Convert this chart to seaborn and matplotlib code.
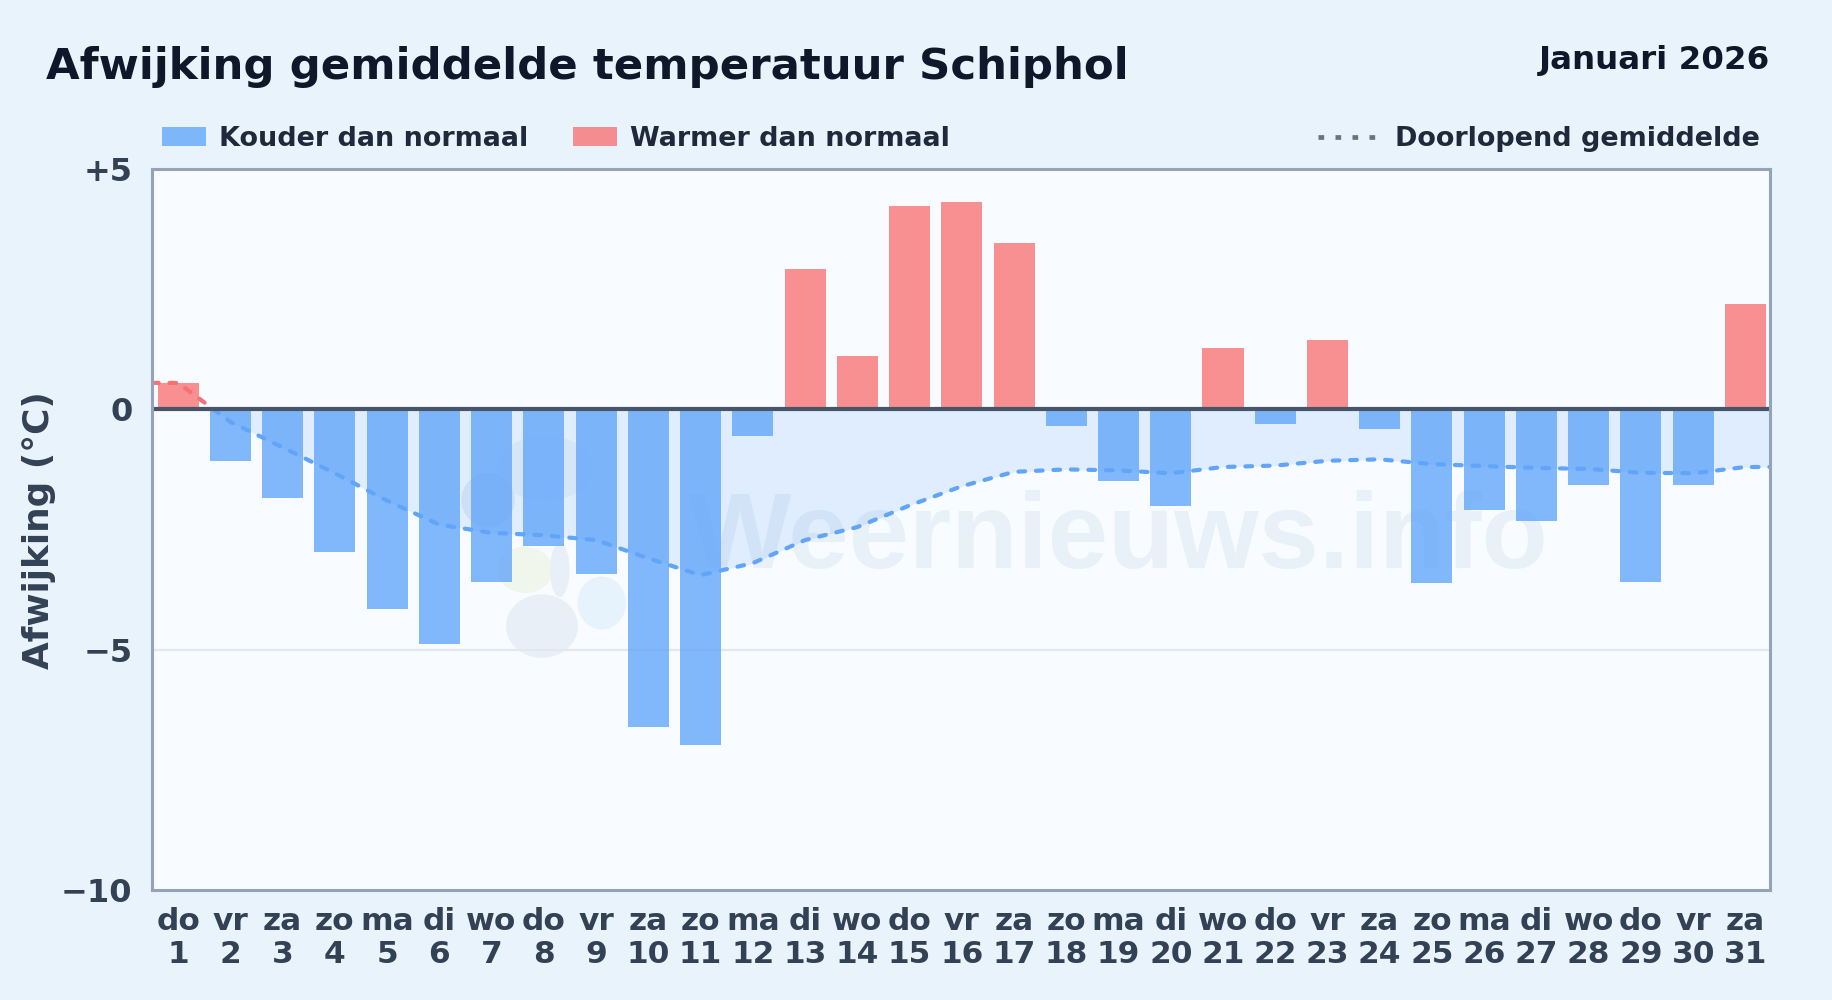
import matplotlib
matplotlib.use("Agg")
from matplotlib import pyplot as plt
from matplotlib.patches import Patch, Rectangle, Ellipse
from matplotlib.lines import Line2D
import seaborn as sns
import pandas as pd

weekdays = ["do", "vr", "za", "zo", "ma", "di", "wo", "do", "vr", "za", "zo", "ma", "di", "wo", "do", "vr",
            "za", "zo", "ma", "di", "wo", "do", "vr", "za", "zo", "ma", "di", "wo", "do", "vr", "za"]
deviation = [0.55, -1.07, -1.85, -2.96, -4.15, -4.88, -3.6, -2.85, -3.43, -6.6, -6.98, -0.55, 2.92, 1.1, 4.23, 4.31,
             3.46, -0.35, -1.5, -2.02, 1.27, -0.3, 1.45, -0.4, -3.62, -2.1, -2.33, -1.58, -3.6, -1.58, 2.2]
running = [0.55, -0.26, -0.79, -1.33, -1.9, -2.4, -2.57, -2.62, -2.72, -3.1, -3.45, -3.2, -2.72, -2.45, -2.0, -1.6,
           -1.3, -1.25, -1.27, -1.33, -1.2, -1.17, -1.07, -1.04, -1.14, -1.18, -1.22, -1.24, -1.32, -1.33, -1.2]
yticks = [5, 0, -5, -10]
yticklabels = ["+5", "0", "\u22125", "\u221210"]

BLUE = "#60a5fa"
RED = "#f87171"
BG = "#e9f3fc"
DARK = "#0f172a"
SLATE = "#334155"

labels = [f"{d}\n{i + 1}" for i, d in enumerate(weekdays)]
df = pd.DataFrame({"label": labels, "value": deviation})
df["kind"] = ["warm" if v >= 0 else "koud" for v in deviation]

sns.set_theme(style="white", font="DejaVu Sans")
fig = plt.figure(figsize=(18.32, 10), dpi=100, facecolor=BG)
ax = fig.add_axes([152 / 1832, 1 - 890 / 1000, (1770 - 152) / 1832, (890 - 169) / 1000])
ax.set_facecolor("#f8fbff")

# watermark
ax.text(0.332, 0.447, "Weernieuws.info", transform=ax.transAxes, fontsize=78, family="Liberation Sans",
        fontweight="bold", color="#c5d8ea", alpha=0.3, va="baseline", ha="left", zorder=0.5)
for cx, cy, w, h, c in [(0.243, 0.585, 0.06, 0.09, "#edf3f9"), (0.2077, 0.541, 0.033, 0.075, "#e3ebf3"),
                        (0.2305, 0.444, 0.0346, 0.064, "#f1f6ec"), (0.278, 0.398, 0.03, 0.0735, "#e6f3fd"),
                        (0.252, 0.444, 0.012, 0.075, "#e8eff6"), (0.241, 0.366, 0.0445, 0.088, "#e8eff6")]:
    ax.add_patch(Ellipse((cx, cy), w, h, transform=ax.transAxes, color=c, lw=0, zorder=0.5))

ax.axhline(-5, color="#e2e8f0", lw=1.6, zorder=1)

# running mean, coloured by sign of the value
line_x = [-0.5] + list(range(31)) + [30.5]
line_y = [running[0]] + running + [running[-1]]
above = Rectangle((-0.5, 0), 31, 5, transform=ax.transData)
below = Rectangle((-0.5, -10), 31, 10, transform=ax.transData)
fill = ax.fill_between(line_x, line_y, 0, color=BLUE, alpha=0.16, lw=0, zorder=1)
fill.set_clip_path(below)

sns.barplot(data=df, x="label", y="value", hue="kind", hue_order=["koud", "warm"], palette={"koud": BLUE, "warm": RED},
            dodge=False, width=0.785, alpha=0.78, legend=False, saturation=1, linewidth=0, ax=ax, zorder=2)

for color, clip in [(RED, above), (BLUE, below)]:
    sns.lineplot(x=line_x, y=line_y, color=color, lw=3, ax=ax, zorder=3, errorbar=None, sort=False)
    ln = ax.lines[-1]
    ln.set_dashes((1.6, 2.6))
    ln.set_dash_capstyle("round")
    ln.set_clip_path(clip)

ax.axhline(0, color="#475569", lw=3, zorder=4)

ax.set_xlim(-0.5, 30.47)
ax.set_ylim(-10, 5)
ax.set_yticks(yticks, yticklabels)
ax.tick_params(axis="y", labelsize=23, labelcolor=SLATE, length=0, pad=14)
ax.tick_params(axis="x", labelsize=22.5, labelcolor=SLATE, length=0, pad=12)
for t in ax.get_xticklabels() + ax.get_yticklabels():
    t.set_fontweight("bold")
    t.set_linespacing(1.2)
ax.set_xlabel("")
ax.set_ylabel("")
fig.text(39 / 1832, 1 - 530 / 1000, "Afwijking (°C)", rotation=90, fontsize=25.8, fontweight="bold", color=SLATE,
         ha="center", va="center")
for s in ax.spines.values():
    s.set_visible(True)
    s.set_color("#94a3b8")
    s.set_linewidth(2.2)
    s.set_zorder(5)

fig.text(46 / 1832, 1 - 67 / 1000, "Afwijking gemiddelde temperatuur Schiphol", fontsize=31.3, fontweight="bold",
         color=DARK, ha="left", va="center")
fig.text(1770 / 1832, 1 - 60 / 1000, "Januari 2026", fontsize=23.4, fontweight="bold", color=DARK, ha="right",
         va="center")

leg1 = ax.legend(handles=[Patch(color=BLUE, alpha=0.78, lw=0, label="Kouder dan normaal"),
                          Patch(color=RED, alpha=0.78, lw=0, label="Warmer dan normaal")],
                 loc="lower left", bbox_to_anchor=(162 / 1832, 1 - 152 / 1000), bbox_transform=fig.transFigure, ncol=2,
                 frameon=False, prop={"size": 19.45, "weight": "bold"}, labelcolor="#1e293b", handlelength=1.62,
                 handleheight=0.72, handletextpad=0.5, columnspacing=1.65, borderpad=0, borderaxespad=0)
ax.add_artist(leg1)
ax.legend(handles=[Line2D([], [], color="#64748b", lw=3.4, dashes=(1.2, 2.4), label="Doorlopend gemiddelde")],
          loc="lower right", bbox_to_anchor=(1760 / 1832, 1 - 152 / 1000), bbox_transform=fig.transFigure,
          frameon=False, prop={"size": 19.45, "weight": "bold"}, labelcolor="#1e293b", handlelength=2.3,
          handletextpad=0.55, borderpad=0, borderaxespad=0)

fig.savefig("out.png", dpi=100, facecolor=BG)
